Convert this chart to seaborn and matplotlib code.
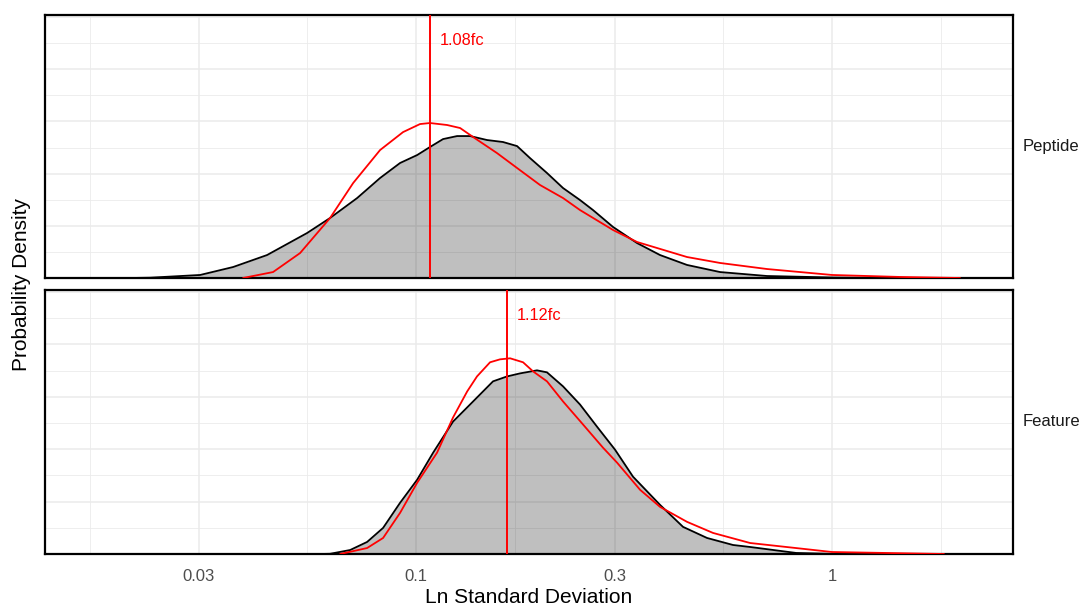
import numpy as np
import pandas as pd
import matplotlib
matplotlib.use("Agg")
import matplotlib.pyplot as plt
import seaborn as sns
from matplotlib.ticker import FixedLocator, NullFormatter

sns.set_theme(style="white")
plt.rcParams['font.family'] = ['Liberation Sans', 'DejaVu Sans']

# facet names, fold-change markers
panels = ["Peptide", "Feature"]
fc_labels = ["1.08fc", "1.12fc"]
fc_sd = [0.108, 0.165]

# x axis breaks (log scale)
x_breaks = [0.03, 0.1, 0.3, 1]
x_break_labels = ["0.03", "0.1", "0.3", "1"]
x_minor = [0.01643, 0.0548, 0.1732, 0.5477, 1.826]

# Peptide - grey filled density (black outline)
pep_sd_all = [0.02054, 0.02294, 0.03026, 0.03631, 0.04383, 0.05470, 0.06212, 0.07216,
              0.08193, 0.09153, 0.1006, 0.1080, 0.1161, 0.1255, 0.1349, 0.1481, 0.1618,
              0.1749, 0.1879, 0.2064, 0.2256, 0.2478, 0.2663, 0.2975, 0.3398, 0.3859,
              0.4481, 0.5380, 0.6978, 1.0, 1.457]
pep_dens_all = [0.0, 0.003, 0.029, 0.105, 0.220, 0.431, 0.575, 0.766,
                0.958, 1.102, 1.178, 1.255, 1.331, 1.360, 1.360, 1.322, 1.303,
                1.264, 1.149, 1.006, 0.862, 0.747, 0.651, 0.489, 0.335, 0.220,
                0.125, 0.057, 0.019, 0.005, 0.0]

# Peptide - red density
pep_sd_sel = [0.03837, 0.04531, 0.05262, 0.06212, 0.07059, 0.08193, 0.09304, 0.1022,
              0.1080, 0.1187, 0.1276, 0.1371, 0.1565, 0.1749, 0.1986, 0.2256, 0.2478,
              0.2975, 0.3398, 0.4481, 0.5380, 0.6978, 1.0, 1.457, 2.031]
pep_dens_sel = [0.0, 0.057, 0.239, 0.575, 0.910, 1.226, 1.398, 1.475,
                1.485, 1.466, 1.437, 1.351, 1.197, 1.054, 0.891, 0.766, 0.651,
                0.460, 0.345, 0.201, 0.144, 0.086, 0.029, 0.010, 0.0]

# Feature - grey filled density (black outline)
feat_sd_all = [0.05876, 0.06212, 0.06942, 0.07626, 0.08331, 0.09153, 0.1006, 0.1099,
               0.1227, 0.1371, 0.1531, 0.1655, 0.1778, 0.1953, 0.2064, 0.2256, 0.2478,
               0.2722, 0.3008, 0.3323, 0.3859, 0.4383, 0.5006, 0.5781, 0.6353, 0.8195,
               1.045]
feat_dens_all = [0.0, 0.002, 0.038, 0.115, 0.249, 0.489, 0.709, 0.967,
                 1.264, 1.456, 1.648, 1.695, 1.724, 1.753, 1.734, 1.600, 1.427,
                 1.216, 0.996, 0.738, 0.469, 0.259, 0.153, 0.086, 0.067, 0.010,
                 0.0]

# Feature - red density
feat_sd_sel = [0.06568, 0.07626, 0.08331, 0.09153, 0.1006, 0.1123, 0.1227, 0.1327,
               0.1401, 0.1506, 0.1591, 0.1683, 0.1808, 0.1911, 0.2064, 0.2256, 0.2520,
               0.2814, 0.3042, 0.3455, 0.3859, 0.4481, 0.5175, 0.6353, 1.0, 1.858]
feat_dens_sel = [0.0, 0.057, 0.153, 0.393, 0.680, 0.967, 1.303, 1.552,
                 1.695, 1.830, 1.858, 1.868, 1.830, 1.743, 1.648, 1.456, 1.236,
                 1.015, 0.872, 0.613, 0.450, 0.307, 0.201, 0.105, 0.019, 0.0]

curves = [
    (pep_sd_all, pep_dens_all, pep_sd_sel, pep_dens_sel),
    (feat_sd_all, feat_dens_all, feat_sd_sel, feat_dens_sel),
]

W, H = 1081, 608
fig = plt.figure(figsize=(W / 100, H / 100), dpi=100)
boxes = [(45, 15, 1013, 278), (45, 290, 1013, 554)]  # pixel boxes l, t, r, b

for i, (l, t, r, b) in enumerate(boxes):
    ax = fig.add_axes([l / W, 1 - b / H, (r - l) / W, (b - t) / H])
    sd_a, d_a, sd_s, d_s = curves[i]
    df_a = pd.DataFrame({"sd": sd_a, "dens": d_a})
    df_s = pd.DataFrame({"sd": sd_s, "dens": d_s})

    ax.set_xscale("log")
    ax.fill_between(df_a["sd"], df_a["dens"], color="black", alpha=0.25,
                    linewidth=0, zorder=2)
    sns.lineplot(data=df_a, x="sd", y="dens", color="black", linewidth=1.3,
                 estimator=None, ax=ax, zorder=3, solid_joinstyle="round")
    sns.lineplot(data=df_s, x="sd", y="dens", color="#ff0000", linewidth=1.3,
                 estimator=None, ax=ax, zorder=4, solid_joinstyle="round")
    ax.axvline(fc_sd[i], color="#ff0000", linewidth=1.4, zorder=5)
    ax.text(fc_sd[i] * 1.057, 2.28, fc_labels[i], color="#ff0000",
            fontsize=11.8, va="center", ha="left", zorder=6)

    ax.set_xlim(0.01282, 2.723)
    ax.set_ylim(0, 2.52)
    ax.xaxis.set_major_locator(FixedLocator(x_breaks))
    ax.xaxis.set_minor_locator(FixedLocator(x_minor))
    ax.xaxis.set_minor_formatter(NullFormatter())
    ax.yaxis.set_major_locator(FixedLocator([0.5, 1.0, 1.5, 2.0, 2.5]))
    ax.yaxis.set_minor_locator(FixedLocator([0.25, 0.75, 1.25, 1.75, 2.25]))
    ax.grid(which="major", color="#ebebeb", linewidth=1.1, zorder=0)
    ax.grid(which="minor", color="#ebebeb", linewidth=0.6, zorder=0)
    ax.set_axisbelow(True)
    ax.set_yticklabels([])
    ax.tick_params(which="both", length=0)
    if i == 1:
        ax.set_xticklabels(x_break_labels)
        ax.tick_params(axis="x", labelsize=12, labelcolor="#4d4d4d", pad=11)
    else:
        ax.set_xticklabels([])
    ax.set_xlabel("")
    ax.set_ylabel("")
    for s in ax.spines.values():
        s.set_color("black")
        s.set_linewidth(1.6)
    fig.text(1051 / W, 1 - ((t + b) / 2) / H, panels[i], fontsize=12,
             color="#1a1a1a", ha="center", va="center")

fig.text(529 / W, 1 - 597.5 / H, "Ln Standard Deviation", fontsize=15,
         color="black", ha="center", va="center")
fig.text(22 / W, 1 - 284.5 / H, "Probability Density", fontsize=15,
         color="black", ha="center", va="center", rotation=90)

fig.savefig("out.png", dpi=100)
